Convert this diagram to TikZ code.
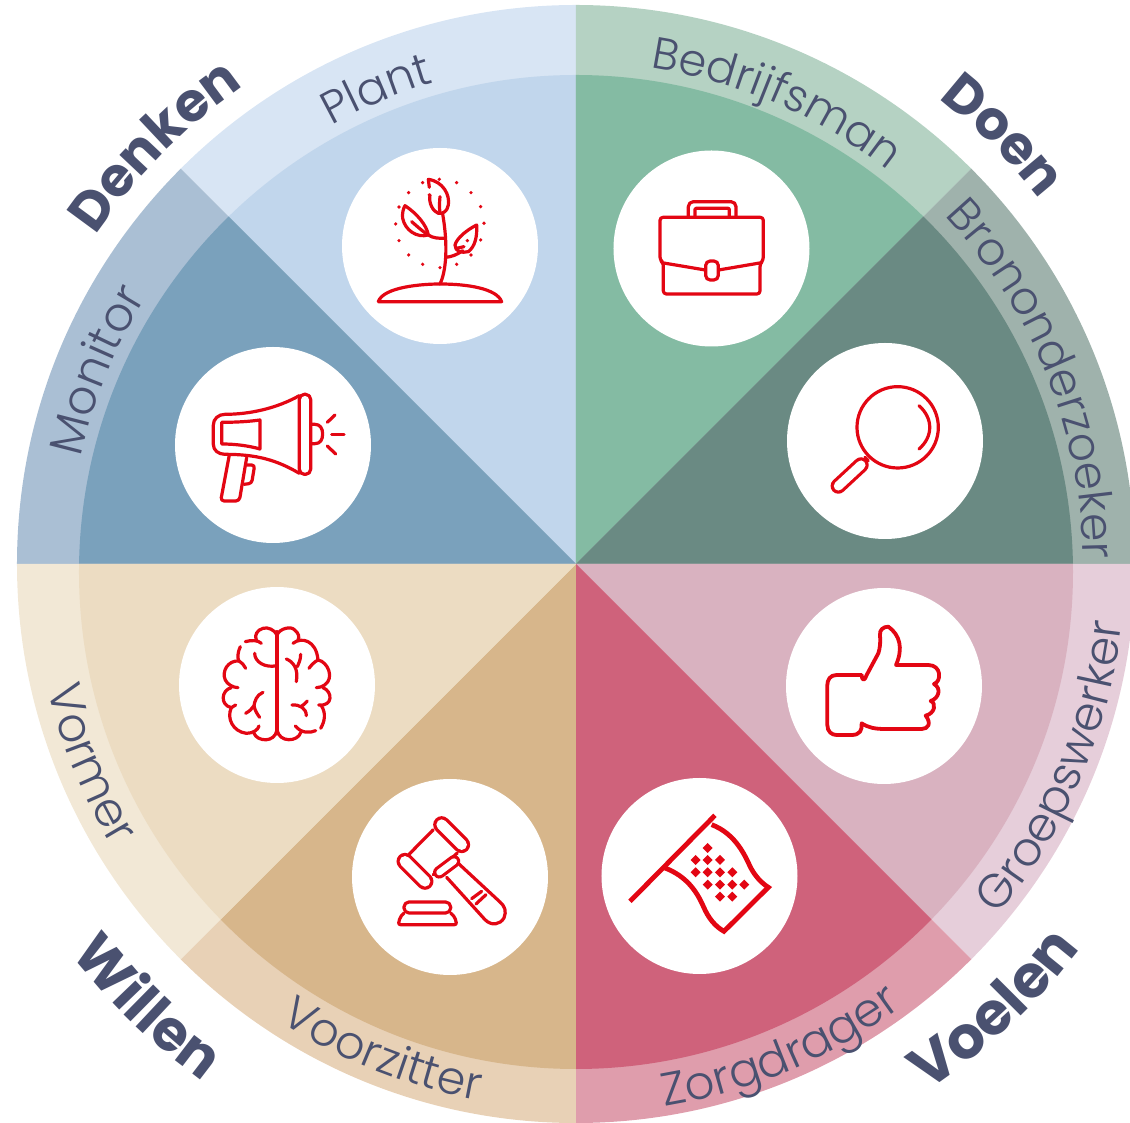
\documentclass[tikz,border=0pt]{standalone}
\usepackage{fontspec}
\usetikzlibrary{decorations.text}
\newfontfamily\lightf{Poppins}[UprightFont=* Light]
\newfontfamily\boldf{Poppins}[UprightFont=* Bold]
\definecolor{txt}{HTML}{4A5170}
\definecolor{ico}{HTML}{E30613}
\definecolor{pO}{HTML}{D8E5F4}\definecolor{pI}{HTML}{C1D6EC}
\definecolor{mO}{HTML}{AABFD4}\definecolor{mI}{HTML}{7AA1BC}
\definecolor{bO}{HTML}{B5D2C3}\definecolor{bI}{HTML}{84BBA3}
\definecolor{oO}{HTML}{9FB2AC}\definecolor{oI}{HTML}{6A8A83}
\definecolor{gO}{HTML}{E6CEDA}\definecolor{gI}{HTML}{D9B2C0}
\definecolor{zO}{HTML}{DF9DAC}\definecolor{zI}{HTML}{CF627B}
\definecolor{vO}{HTML}{E8D1B6}\definecolor{vI}{HTML}{D7B68B}
\definecolor{fO}{HTML}{F2E8D6}\definecolor{fI}{HTML}{ECDCC2}
\newcommand\sectorfill[4]{%
  \begin{scope}
    \clip (0,0) -- (#1:900pt) -- (#2:900pt) -- cycle;
    \fill[#3] (0,0) circle[radius=559pt];
    \fill[#4] (0,-8) circle[radius=497pt];
  \end{scope}}
\newcommand\disc[2]{\fill[white] (#1-576,564-#2) circle[radius=98pt];}
\newcommand\cwtext[4]{%
  \pgfmathsetmacro\aS{#4+40}\pgfmathsetmacro\aE{#4-40}%
  \path[decorate,decoration={text along path,text align=center,
    text={|#2\color{txt}|#1}}]
    (\aS:#3pt) arc[start angle=\aS,end angle=\aE,radius=#3pt];}
\newcommand\ccwtext[4]{%
  \pgfmathsetmacro\aS{#4-40}\pgfmathsetmacro\aE{#4+40}%
  \path[decorate,decoration={text along path,text align=center,
    text={|#2\color{txt}|#1}}]
    (\aS:#3pt) arc[start angle=\aS,end angle=\aE,radius=#3pt];}
\newcommand\thinf[1]{\lightf\fontsize{#1}{50}\selectfont}
\newcommand\fatf[1]{\boldf\fontsize{#1}{60}\selectfont}
\tikzset{
  crop/.style 2 args={shift={(#1-576,564-#2)},xscale=1/3,yscale=-1/3},
  icon/.style={draw=ico,line width=3.2pt,line cap=round,line join=round,fill=none},
}
\newcommand\capsule[3]{%
  \draw[ico,line width=#3pt,line cap=round] #1 -- #2;
  \pgfmathsetmacro\wI{#3-6.4}%
  \draw[white,line width=\wI pt,line cap=round] #1 -- #2;}
\newcommand\diam[2]{\fill[ico] (#1-15,#2) -- (#1,#2-15) -- (#1+15,#2) -- (#1,#2+15) -- cycle;}
\begin{document}
\begin{tikzpicture}[x=1pt,y=1pt]
\useasboundingbox (-576,-559) rectangle (554,564);
\clip (-576,-559) rectangle (554,564);
\sectorfill{90}{135}{pO}{pI}
\sectorfill{135}{180}{mO}{mI}
\sectorfill{45}{90}{bO}{bI}
\sectorfill{0}{45}{oO}{oI}
\sectorfill{-45}{0}{gO}{gI}
\sectorfill{-90}{-45}{zO}{zI}
\sectorfill{-135}{-90}{vO}{vI}
\sectorfill{-180}{-135}{fO}{fI}
\disc{440}{246}\disc{711.5}{248.5}\disc{273}{445}\disc{885}{441}
\disc{277}{685}\disc{884}{686}\disc{450}{877}\disc{699.5}{876}

% labels on the ring
\cwtext{Plant}{\thinf{45.5}}{502}{112.8}
\cwtext{Monitor}{\thinf{47}}{506}{158}
\cwtext{Bedrijfsman}{\thinf{44.5}}{502}{66.5}
\cwtext{Brononderzoeker}{\thinf{45.5}}{507}{22}
\ccwtext{Groepswerker}{\thinf{47}}{549}{-23}
\ccwtext{Zorgdrager}{\thinf{46.5}}{550}{-67.2}
\ccwtext{Voorzitter}{\thinf{46}}{545}{-111.6}
\ccwtext{Vormer}{\thinf{47}}{543}{202.3}
% outer labels
\cwtext{Denken}{\fatf{54}}{582}{135.2}
\cwtext{Doen}{\fatf{54}}{590}{45.1}
\ccwtext{Voelen}{\fatf{59}}{634}{-46.8}
\ccwtext{Willen}{\fatf{57}}{638}{226}

% plant
\begin{scope}[crop={340}{140}]
\draw[icon] (115,485) -- (485,485) .. controls (470,445) and (380,432) .. (300,432) .. controls (250,432) and (130,440) .. (115,485);
\draw[icon] (300,432) .. controls (318,395) and (325,320) .. (308,222);
\draw[icon] (268,142) -- (265,118) .. controls (310,125) and (330,165) .. (325,195) .. controls (322,215) and (308,222) .. (295,220) .. controls (280,215) and (265,190) .. (270,165);
\draw[icon] (300,170) .. controls (298,190) and (298,205) .. (300,218);
\draw[icon] (195,197) .. controls (230,220) and (260,255) .. (265,285) .. controls (230,295) and (195,270) .. (188,235) .. controls (186,220) and (190,205) .. (195,197) -- cycle;
\draw[icon] (215,245) .. controls (235,262) and (245,272) .. (265,285) .. controls (280,295) and (295,295) .. (315,295);
\draw[icon] (410,255) .. controls (380,270) and (350,295) .. (345,315) .. controls (345,335) and (365,340) .. (385,335) .. controls (405,320) and (412,290) .. (410,255) -- cycle;
\draw[icon] (318,352) .. controls (335,350) and (350,345) .. (368,332);
\draw[icon] (350,325) -- (372,320);
\foreach \p/\q in {248/128,298/118,350/128,393/158,422/200,432/250,422/300,393/345,350/373,300/383,248/373,206/345,177/302,167/252,177/201,206/158,268/165,382/302}
  \fill[ico] (\p,\q) circle[radius=5.5];
\end{scope}

% briefcase
\begin{scope}[crop={610}{150}]
\draw[icon,rounded corners=3pt] (160,338) -- (150,330) -- (150,202) -- (460,202) -- (460,330) -- (450,342) -- (450,432) -- (160,432) -- cycle;
\draw[icon] (155,338) -- (286,360);
\draw[icon] (326,360) -- (455,338);
\draw[icon,rounded corners=5pt] (235,200) -- (235,155) -- (378,155) -- (378,200);
\draw[icon,rounded corners=1pt] (255,200) -- (255,175) -- (358,175) -- (358,200);
\draw[icon,rounded corners=4.5pt] (287,333) rectangle (325,390);
\end{scope}

% megaphone
\begin{scope}[crop={170}{345}]
\draw[icon,rounded corners=5pt] (388,148) -- (422,148) -- (422,388) -- (388,388) -- cycle;
\draw[icon] (388,152) .. controls (320,190) and (240,208) .. (165,208) .. controls (145,208) and (130,222) .. (130,240) -- (130,298) .. controls (130,316) and (145,328) .. (165,328) .. controls (260,328) and (320,345) .. (388,385);
\draw[icon] (155,232) .. controls (195,232) and (235,230) .. (270,225) -- (270,312) .. controls (235,302) and (195,297) .. (155,297) -- cycle;
\draw[icon] (422,238) -- (435,238) .. controls (450,238) and (458,250) .. (458,267) .. controls (458,285) and (450,296) .. (435,296) -- (422,296);
\draw[icon,rounded corners=3.5pt] (178,330) -- (152,468) -- (208,468) -- (230,338);
\draw[icon,rounded corners=3pt] (232,360) -- (254,360) -- (245,415) -- (222,418);
\draw[icon] (472,232) -- (495,210);
\draw[icon] (485,268) -- (522,268);
\draw[icon] (472,303) -- (497,327);
\end{scope}

% magnifier
\begin{scope}[crop={785}{340}]
\draw[icon] (338,262) circle[radius=122];
\draw[icon] (402,197) .. controls (445,235) and (445,290) .. (402,327);
\draw[icon] (240,352) -- (250,362);
\capsule{(228,375)}{(160,438)}{15.5}
\end{scope}

% brain
\begin{scope}[crop={178}{585}]
\draw[icon] (297,140) -- (297,435);
\draw[icon] (297,150) .. controls (290,135) and (270,125) .. (255,130) .. controls (238,135) and (228,150) .. (235,165);
\draw[icon] (202,170) .. controls (220,165) and (240,165) .. (250,175);
\draw[icon] (187,185) .. controls (178,205) and (178,220) .. (183,228) .. controls (192,233) and (198,240) .. (203,250);
\draw[icon] (183,228) .. controls (150,225) and (130,260) .. (142,285) .. controls (147,297) and (165,308) .. (180,308);
\draw[icon] (160,308) .. controls (130,315) and (125,360) .. (160,368) -- (173,360);
\draw[icon] (160,368) .. controls (145,400) and (165,440) .. (205,445) .. controls (225,445) and (240,435) .. (243,423);
\draw[icon] (228,445) .. controls (238,470) and (290,475) .. (297,435);
\draw[icon] (230,205) .. controls (230,230) and (260,250) .. (297,242);
\draw[icon] (255,322) .. controls (235,330) and (230,350) .. (228,362) .. controls (222,372) and (215,378) .. (203,385);
\draw[icon] (228,362) .. controls (230,375) and (238,388) .. (245,397);
\draw[icon] (297,150) .. controls (305,130) and (340,122) .. (350,135) .. controls (362,145) and (365,155) .. (360,165);
\draw[icon] (345,175) .. controls (370,155) and (415,165) .. (420,225) .. controls (410,230) and (400,240) .. (393,250);
\draw[icon] (420,225) .. controls (450,230) and (470,280) .. (440,300) .. controls (432,305) and (425,308) .. (415,308);
\draw[icon] (435,308) .. controls (465,320) and (465,365) .. (422,360);
\draw[icon] (430,362) .. controls (445,385) and (440,410) .. (428,430);
\draw[icon] (352,423) .. controls (370,445) and (395,445) .. (413,437);
\draw[icon] (368,443) .. controls (360,470) and (305,475) .. (297,435);
\draw[icon] (325,222) .. controls (345,230) and (362,250) .. (355,290);
\draw[icon] (368,208) .. controls (368,225) and (362,235) .. (358,245);
\draw[icon] (342,360) .. controls (365,358) and (385,370) .. (385,392);
\draw[icon] (388,348) .. controls (382,355) and (375,362) .. (368,365);
\end{scope}

% thumb
\begin{scope}[crop={785}{585}]
\draw[icon,line width=3.8pt] (230,270) -- (155,270) .. controls (135,270) and (127,285) .. (127,300) -- (127,420) .. controls (127,440) and (140,450) .. (155,450) -- (200,450) .. controls (225,450) and (232,435) .. (230,415) .. controls (250,428) and (270,432) .. (300,432) -- (410,432) .. controls (430,432) and (440,415) .. (422,392) .. controls (450,385) and (455,355) .. (437,348) .. controls (462,340) and (470,310) .. (447,297) .. controls (470,290) and (470,240) .. (430,240) -- (333,240) .. controls (355,190) and (345,150) .. (310,125) .. controls (295,125) and (283,135) .. (285,150) .. controls (287,170) and (285,190) .. (280,205) -- (245,270) .. controls (240,285) and (232,292) .. (230,270) -- cycle;
\end{scope}

% gavel
\begin{scope}[crop={350}{778}]
\draw[icon] (250,155) -- (178,228);
\draw[icon] (322,225) -- (250,290);
\capsule{(165,250)}{(225,310)}{17}
\capsule{(275,140)}{(335,200)}{17}
\capsule{(268,283)}{(312,250)}{12.5}
\draw[icon] (290,298) -- (405,425) .. controls (425,445) and (450,440) .. (462,420) .. controls (470,400) and (465,385) .. (450,372) -- (327,258);
\draw[icon] (365,362) -- (395,340);
\draw[icon] (378,378) -- (408,350);
\draw[icon,rounded corners=5pt] (162,372) rectangle (302,405);
\draw[icon,rounded corners=2pt] (162,405) -- (150,418) -- (145,440) -- (320,440) -- (315,418) -- (302,405);
\end{scope}

% flag
\begin{scope}[crop={600}{778}]
\draw[ico,line width=4.8pt] (90,370) -- (345,112);
\draw[ico,line width=4.8pt,line join=miter] (335,140) .. controls (400,165) and (430,220) .. (450,265) .. controls (465,295) and (485,315) .. (505,328) -- (372,460) .. controls (345,445) and (325,420) .. (310,385) .. controls (290,340) and (260,295) .. (195,270);
\diam{323}{210}\diam{287}{246}\diam{323}{246}\diam{360}{246}
\diam{287}{283}\diam{323}{283}\diam{360}{283}\diam{397}{283}
\diam{323}{320}\diam{360}{320}\diam{397}{320}\diam{433}{320}
\diam{360}{356}\diam{397}{356}
\end{scope}
\end{tikzpicture}
\end{document}
